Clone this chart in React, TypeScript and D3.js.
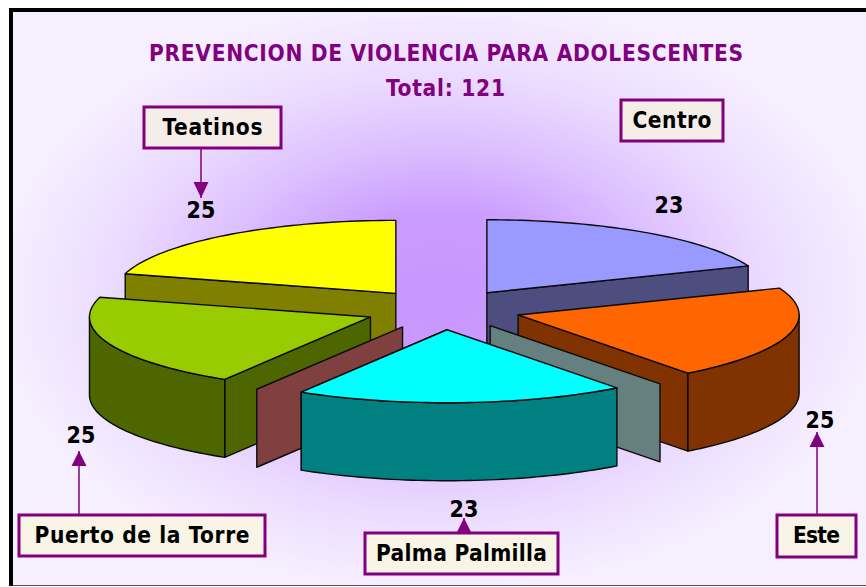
import React from "react";
import * as d3 from "d3";

const titleText = "PREVENCION DE VIOLENCIA PARA ADOLESCENTES";
const totalText = "Total: 121";
// Two zero-valued slices appear as the flat walls between the exploded wedges.
const sliceNames = ["Centro", "Este", "", "Palma Palmilla", "", "Puerto de la Torre", "Teatinos"];
const sliceValues = [23, 25, 0, 23, 0, 25, 25];
const topColors = ["#9999FF", "#FF6600", "#CCFFFF", "#00FFFF", "#FF8080", "#99CC00", "#FFFF00"];
const sideColors = ["#4D4D80", "#803300", "#668080", "#008080", "#804040", "#4D6600", "#808000"];
const drawOrder = [6, 0, 1, 5, 2, 4, 3];

const W = 866, H = 587;
const CX = 443, CY = 309.5, RX = 281, RY = 73, DEPTH = 78, EXPLODE = 78;
const HALF = Math.PI / 2;

const callouts = [
  { name: "Teatinos", box: [144, 107, 137, 41], value: "25", vx: 201, vy: 218, arrow: [201, 149, 198] },
  { name: "Centro", box: [621, 100, 102, 41], value: "23", vx: 669, vy: 213, arrow: null },
  { name: "Puerto de la Torre", box: [19, 515, 246, 41], value: "25", vx: 81, vy: 443, arrow: [79, 515, 451] },
  { name: "Palma Palmilla", box: [365, 533, 193, 41], value: "23", vx: 464, vy: 517, arrow: [464, 533, 518] },
  { name: "Este", box: [777, 515, 79, 42], value: "25", vx: 820, vy: 428, arrow: [817, 515, 432] },
];
const labelWidths: Record<string, number> = { Teatinos: 100, Centro: 79, "Puerto de la Torre": 215, "Palma Palmilla": 171, Este: 47 };

const pie = d3.pie<number>().sort(null).startAngle(0).endAngle(2 * Math.PI);
const arcs = pie(sliceValues);
const ptLine = d3.line<[number, number]>();

function wedge(i: number) {
  const a = arcs[i];
  const mid = (a.startAngle + a.endAngle) / 2;
  const ox = CX + EXPLODE * Math.sin(mid);
  const oy = CY - EXPLODE * (RY / RX) * Math.cos(mid);
  const at = (t: number, dy = 0): [number, number] => [ox + RX * Math.sin(t), oy - RY * Math.cos(t) + dy];
  const sweep = (s: number, e: number, dy = 0) => d3.range(0, 49).map((k) => at(s + ((e - s) * k) / 48, dy));
  const apex: [number, number] = [ox, oy];
  const apexLow: [number, number] = [ox, oy + DEPTH];
  const top = ptLine([apex, ...sweep(a.startAngle, a.endAngle)])! + "Z";
  // the radial face turned to the viewer: trailing edge on the right, leading edge on the left
  const faceAngle = mid < Math.PI ? a.endAngle : a.startAngle;
  const face = ptLine([apex, at(faceAngle), at(faceAngle, DEPTH), apexLow])! + "Z";
  const s = Math.max(a.startAngle, HALF), e = Math.min(a.endAngle, 3 * HALF);
  const rim = e > s ? ptLine([...sweep(s, e), ...sweep(e, s, DEPTH)])! + "Z" : null;
  return { top, face, rim, isWall: a.startAngle === a.endAngle };
}

const purple = "#800080";

function Tx({ x, y, w, size, fill, children }: any) {
  return (
    <text x={x} y={y} textLength={w} lengthAdjust="spacing" textAnchor="middle" fontFamily="'DejaVu Sans', sans-serif" fontStretch="condensed" fontWeight={700} fontSize={size} fill={fill}>
      {children}
    </text>
  );
}

export default function App() {
  return (
    <svg width={W} height={H} viewBox={`0 0 ${W} ${H}`} style={{ position: "absolute", left: 0, top: 0, display: "block" }}>
      <defs>
        <radialGradient id="bg" gradientUnits="userSpaceOnUse" cx={0} cy={0} r={1} gradientTransform="translate(440 295) scale(440 295)">
          <stop offset="0" stopColor="#C896FF" />
          <stop offset="0.28" stopColor="#CB9CFF" />
          <stop offset="0.5" stopColor="#DCBEFF" />
          <stop offset="0.74" stopColor="#EBDBFF" />
          <stop offset="1" stopColor="#F6EFFF" />
        </radialGradient>
      </defs>
      <rect width={W} height={H} fill="#fff" />
      <rect x={9} y={8} width={W} height={578} fill="#000" />
      <rect x={13} y={12} width={W} height={573} fill="#F6EFFF" />
      <rect x={13} y={12} width={W} height={573} fill="url(#bg)" />
      <rect x={13} y={585} width={W} height={1} fill="#555" />

      <Tx x={446} y={61} w={594} size={22.5} fill={purple}>{titleText}</Tx>
      <Tx x={445.5} y={96} w={119} size={22.5} fill={purple}>{totalText}</Tx>

      <g stroke="#0a0a0a" strokeWidth={1.4} strokeLinejoin="round">
        {drawOrder.map((i) => {
          const w = wedge(i);
          if (w.isWall) return <path key={i} d={w.face} fill={sideColors[i]} />;
          return (
            <g key={i}>
              <path d={w.face} fill={sideColors[i]} />
              {w.rim && <path d={w.rim} fill={sideColors[i]} />}
              <path d={w.top} fill={topColors[i]} />
            </g>
          );
        })}
      </g>

      {callouts.map((c) => (
        <g key={c.name}>
          {c.arrow && (
            <>
              <line x1={c.arrow[0]} x2={c.arrow[0]} y1={c.arrow[1]} y2={c.arrow[2]} stroke={purple} strokeWidth={1.5} />
              <path
                d={ptLine([
                  [c.arrow[0], c.arrow[2]],
                  [c.arrow[0] - 7.5, c.arrow[2] + (c.arrow[2] > c.arrow[1] ? -16 : 15)],
                  [c.arrow[0] + 7.5, c.arrow[2] + (c.arrow[2] > c.arrow[1] ? -16 : 15)],
                ])! + "Z"}
                fill={purple}
              />
            </>
          )}
          <rect x={c.box[0]} y={c.box[1]} width={c.box[2]} height={c.box[3]} fill={c.name === "Teatinos" || c.name === "Centro" ? "#F5EEE8" : "#F8F4E6"} stroke={purple} strokeWidth={3} />
          <Tx x={c.box[0] + c.box[2] / 2} y={c.box[1] + 28} w={labelWidths[c.name]} size={22.5} fill="#000">{c.name}</Tx>
          <Tx x={c.vx} y={c.vy} w={29} size={23} fill="#000">{c.value}</Tx>
        </g>
      ))}
    </svg>
  );
}
